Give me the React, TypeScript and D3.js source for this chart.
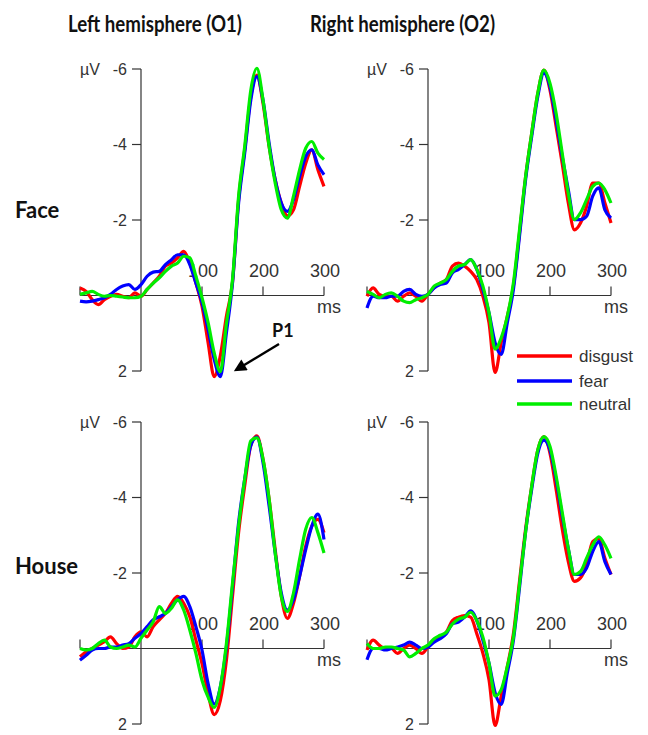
// @ts-nocheck
import * as d3 from "d3";
import { useRef, useEffect } from "react";

// time points, ms
const times = d3.range(-100, 301, 10);
const conditions = ["disgust", "fear", "neutral"];
const colors = ["#ff0000", "#0000ff", "#00ee00"];
const yTicks = [-6, -4, -2, 2];
const xTicks = [100, 200, 300];
const columns = ["Left hemisphere (O1)", "Right hemisphere (O2)"];
const rows = ["Face", "House"];

// amplitudes in µV (negative up), -100..300 ms every 10 ms
const faceLeftDisgust = [-0.2, -0.11, 0.11, 0.24, 0.11, 0.02, -0.03, 0.02, 0.06, -0.07, 0.02, -0.16, -0.33, -0.51, -0.78, -0.86, -1.0, -1.17, -0.86, -0.33, 0.28, 1.25, 2.15, 1.6, 0.55, -0.35, -2.54, -3.86, -5.27, -5.84, -5.09, -3.95, -3.07, -2.45, -2.11, -2.27, -2.89, -3.5, -3.86, -3.33, -2.89];
const faceLeftFear = [0.15, 0.17, 0.15, 0.11, 0.06, -0.03, -0.16, -0.25, -0.29, -0.16, -0.29, -0.51, -0.62, -0.64, -0.82, -0.95, -1.08, -1.08, -0.82, -0.33, 0.19, 0.9, 1.69, 2.15, 0.99, -0.33, -2.45, -3.77, -5.18, -5.8, -5.18, -4.04, -3.07, -2.45, -2.23, -2.54, -3.15, -3.68, -3.86, -3.46, -3.2];
const faceLeftNeutral = [-0.03, -0.07, -0.11, -0.03, 0.02, 0, 0.02, 0.04, 0.06, 0.06, 0.02, -0.16, -0.33, -0.47, -0.64, -0.78, -0.86, -1.04, -1.0, -0.51, 0.06, 0.72, 1.52, 2.02, 0.75, -0.42, -2.63, -3.95, -5.44, -6.02, -5.18, -3.95, -2.98, -2.27, -2.05, -2.63, -3.33, -3.9, -4.08, -3.77, -3.6];

const faceRightDisgust = [0.02, -0.2, -0.03, 0.02, 0.02, 0.15, 0.02, -0.07, 0.02, 0.15, -0.03, -0.2, -0.33, -0.42, -0.78, -0.86, -0.78, -0.64, -0.42, 0.02, 0.72, 2.04, 1.25, 0.55, -0.25, -1.66, -3.15, -4.3, -5.36, -5.97, -5.44, -4.48, -3.5, -2.45, -1.74, -1.92, -2.36, -2.98, -2.98, -2.45, -1.92];
const faceRightFear = [0.33, 0.02, 0.06, 0.06, 0.02, 0.02, -0.11, -0.16, -0.03, 0.02, -0.03, -0.2, -0.29, -0.33, -0.6, -0.69, -0.82, -0.95, -0.69, -0.16, 0.46, 1.25, 1.56, 0.72, -0.16, -1.57, -3.07, -4.21, -5.27, -5.89, -5.53, -4.65, -3.68, -2.8, -2.01, -2.01, -2.1, -2.63, -2.85, -2.27, -2.05];
const faceRightNeutral = [-0.11, -0.03, 0.06, -0.03, -0.07, 0.02, 0.15, 0.19, 0.11, 0.06, -0.03, -0.25, -0.33, -0.42, -0.64, -0.78, -0.82, -0.95, -0.69, -0.25, 0.46, 1.42, 1.12, 0.55, -0.33, -1.74, -3.15, -4.3, -5.36, -5.97, -5.62, -4.83, -3.77, -2.71, -2.01, -2.19, -2.54, -2.89, -2.98, -2.8, -2.45];

const houseLeftDisgust = [0.22, 0.09, 0, -0.09, -0.18, -0.31, -0.13, 0, -0.04, -0.31, -0.44, -0.31, -0.58, -0.76, -0.93, -1.2, -1.38, -1.2, -0.84, -0.22, 0.4, 1.2, 1.75, 1.38, 0.31, -1.38, -3.07, -4.31, -5.38, -5.63, -5.02, -3.96, -2.62, -1.38, -0.8, -1.2, -1.91, -2.71, -3.24, -3.42, -3.07];
const houseLeftFear = [0.31, 0.18, 0.04, 0, 0, -0.04, -0.04, -0.09, -0.13, -0.27, -0.4, -0.58, -0.76, -0.84, -0.93, -1.11, -1.29, -1.38, -1.11, -0.58, 0.04, 0.93, 1.47, 1.02, -0.04, -1.64, -3.33, -4.49, -5.38, -5.6, -4.93, -3.78, -2.53, -1.47, -1.02, -1.29, -1.91, -2.62, -3.24, -3.56, -2.89];
const houseLeftNeutral = [0, 0.04, 0, -0.13, -0.22, -0.04, 0, -0.04, -0.09, -0.04, -0.27, -0.49, -0.71, -1.11, -0.93, -1.07, -1.29, -1.02, -0.49, 0.13, 0.84, 1.29, 1.56, 1.02, -0.13, -1.73, -3.24, -4.49, -5.5, -5.58, -5.02, -3.96, -2.53, -1.38, -0.98, -1.47, -2.36, -3.16, -3.47, -3.07, -2.53];

const houseRightDisgust = [0.04, -0.22, -0.09, 0, 0, 0.13, 0, -0.09, 0, 0.13, -0.04, -0.22, -0.3, -0.43, -0.74, -0.83, -0.87, -0.83, -0.39, 0.13, 0.83, 2.04, 1.26, 0.48, -0.39, -1.78, -3.17, -4.3, -5.26, -5.61, -5.17, -4.22, -3.17, -2.3, -1.78, -1.87, -2.22, -2.83, -2.91, -2.39, -1.96];
const houseRightFear = [0.3, 0, 0, 0.04, 0, -0.04, -0.09, -0.17, -0.09, 0, -0.04, -0.17, -0.26, -0.39, -0.65, -0.7, -0.83, -1.0, -0.74, -0.22, 0.39, 1.17, 1.48, 0.65, -0.22, -1.61, -3.09, -4.22, -5.17, -5.52, -5.26, -4.48, -3.52, -2.65, -1.96, -1.96, -2.13, -2.57, -2.83, -2.3, -1.96];
const houseRightNeutral = [-0.13, 0, 0, -0.04, -0.04, 0, 0.04, 0.22, 0.13, 0, -0.09, -0.26, -0.35, -0.43, -0.65, -0.78, -0.83, -0.96, -0.74, -0.3, 0.39, 1.26, 1.09, 0.48, -0.3, -1.7, -3.09, -4.3, -5.26, -5.61, -5.35, -4.57, -3.61, -2.65, -1.96, -2.04, -2.39, -2.74, -2.96, -2.74, -2.39];

const panels = [
  { col: 0, row: 0, series: [faceLeftDisgust, faceLeftFear, faceLeftNeutral] },
  { col: 1, row: 0, series: [faceRightDisgust, faceRightFear, faceRightNeutral] },
  { col: 0, row: 1, series: [houseLeftDisgust, houseLeftFear, houseLeftNeutral] },
  { col: 1, row: 1, series: [houseRightDisgust, houseRightFear, houseRightNeutral] },
];

export default function App() {
  const ref = useRef();

  useEffect(() => {
    const svg = d3.select(ref.current);
    svg.selectAll("*").remove();

    const originX = [141, 428];
    const topY = [69, 422];
    const plotH = 302;
    const axisColor = "#333";
    const labelFont = "'Liberation Sans', Arial, sans-serif";
    const boldFont = "Lato, 'Open Sans', sans-serif";

    // column titles
    svg
      .selectAll("text.title")
      .data(columns)
      .enter()
      .append("text")
      .attr("class", "title")
      .attr("x", (d, i) => [68, 310][i])
      .attr("y", 32)
      .attr("textLength", (d, i) => [174, 185][i])
      .attr("lengthAdjust", "spacingAndGlyphs")
      .attr("font-family", boldFont)
      .attr("font-weight", "bold")
      .attr("font-size", 23)
      .attr("fill", "#111")
      .text((d) => d);

    // row labels
    svg
      .selectAll("text.rowlab")
      .data(rows)
      .enter()
      .append("text")
      .attr("class", "rowlab")
      .attr("x", 15)
      .attr("y", (d, i) => [218, 574][i])
      .attr("font-family", boldFont)
      .attr("font-weight", "bold")
      .attr("font-size", 22)
      .attr("fill", "#111")
      .text((d) => d);

    panels.forEach((p) => {
      const x0 = originX[p.col];
      const top = topY[p.row];
      const x = d3.scaleLinear().domain([0, 100]).range([x0, x0 + 61]);
      const y = d3.scaleLinear().domain([-6, 2]).range([top, top + plotH]);
      const g = svg.append("g");

      // y axis
      g.append("line")
        .attr("x1", x0).attr("x2", x0)
        .attr("y1", y(-6)).attr("y2", y(2))
        .attr("stroke", axisColor).attr("stroke-width", 1.2);
      yTicks.forEach((t) => {
        g.append("line")
          .attr("x1", x0 - 9).attr("x2", x0)
          .attr("y1", y(t)).attr("y2", y(t))
          .attr("stroke", axisColor).attr("stroke-width", 1.2);
        g.append("text")
          .attr("x", x0 - 14)
          .attr("y", y(t) + 5.5)
          .attr("text-anchor", "end")
          .attr("font-family", labelFont)
          .attr("font-size", 16)
          .attr("fill", "#333")
          .text(t);
      });
      g.append("text")
        .attr("x", x0 - 41)
        .attr("y", y(-6) + 5.5)
        .attr("text-anchor", "end")
        .attr("font-family", labelFont)
        .attr("font-size", 16)
        .attr("fill", "#333")
        .text("µV");

      // x axis
      g.append("line")
        .attr("x1", x(-100)).attr("x2", x(300))
        .attr("y1", y(0)).attr("y2", y(0))
        .attr("stroke", axisColor).attr("stroke-width", 1.2);
      [-100, ...xTicks].forEach((t) => {
        g.append("line")
          .attr("x1", x(t)).attr("x2", x(t))
          .attr("y1", y(0) - 9).attr("y2", y(0))
          .attr("stroke", axisColor).attr("stroke-width", 1.2);
      });
      xTicks.forEach((t) => {
        g.append("text")
          .attr("x", x(t) + 1)
          .attr("y", y(0) - 19)
          .attr("text-anchor", "middle")
          .attr("font-family", labelFont)
          .attr("font-size", 18)
          .attr("fill", "#333")
          .text(t);
      });
      g.append("text")
        .attr("x", x(300) + 17)
        .attr("y", y(0) + 17)
        .attr("text-anchor", "end")
        .attr("font-family", labelFont)
        .attr("font-size", 18)
        .attr("fill", "#333")
        .text("ms");

      const line = d3
        .line()
        .x((d, i) => x(times[i]))
        .y((d) => y(d))
        .curve(d3.curveMonotoneX);

      p.series.forEach((s, i) => {
        g.append("path")
          .datum(s)
          .attr("d", line)
          .attr("fill", "none")
          .attr("stroke", colors[i])
          .attr("stroke-width", 3.2)
          .attr("stroke-linejoin", "round");
      });
    });

    // legend
    const leg = svg.append("g");
    conditions.forEach((c, i) => {
      const ly = [356, 381, 404][i];
      leg.append("line")
        .attr("x1", 517).attr("x2", 572)
        .attr("y1", ly).attr("y2", ly)
        .attr("stroke", colors[i]).attr("stroke-width", 3.5);
      leg.append("text")
        .attr("x", 579)
        .attr("y", ly + 6)
        .attr("font-family", labelFont)
        .attr("font-size", 17)
        .attr("fill", "#333")
        .text(c);
    });

    // P1 annotation
    svg.append("defs")
      .append("marker")
      .attr("id", "arrow")
      .attr("viewBox", "0 0 10 10")
      .attr("refX", 8)
      .attr("refY", 5)
      .attr("markerWidth", 6)
      .attr("markerHeight", 5)
      .attr("orient", "auto")
      .append("path")
      .attr("d", "M0,0 L10,5 L0,10 z")
      .attr("fill", "#000");
    svg.append("line")
      .attr("x1", 279).attr("y1", 344)
      .attr("x2", 236).attr("y2", 370)
      .attr("stroke", "#000")
      .attr("stroke-width", 2.5)
      .attr("marker-end", "url(#arrow)");
    svg.append("text")
      .attr("x", 272)
      .attr("y", 337)
      .attr("font-family", boldFont)
      .attr("font-weight", "bold")
      .attr("font-size", 18)
      .attr("fill", "#111")
      .text("P1");
  }, []);

  return (
    <svg
      ref={ref}
      width={648}
      height={735}
      style={{ position: "absolute", left: 0, top: 0, background: "#fff" }}
    ></svg>
  );
}
